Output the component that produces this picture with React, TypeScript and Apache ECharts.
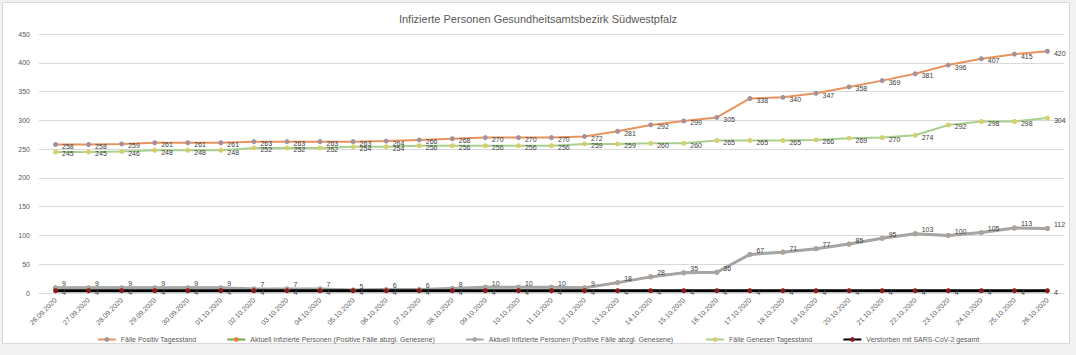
import React, { useEffect, useRef } from "react";
import * as echarts from "echarts";

const dates = [
  "26.09.2020", "27.09.2020", "28.09.2020", "29.09.2020", "30.09.2020",
  "01.10.2020", "02.10.2020", "03.10.2020", "04.10.2020", "05.10.2020",
  "06.10.2020", "07.10.2020", "08.10.2020", "09.10.2020", "10.10.2020",
  "11.10.2020", "12.10.2020", "13.10.2020", "14.10.2020", "15.10.2020",
  "16.10.2020", "17.10.2020", "18.10.2020", "19.10.2020", "20.10.2020",
  "21.10.2020", "22.10.2020", "23.10.2020", "24.10.2020", "25.10.2020",
  "26.10.2020",
];

const positiv = [258, 258, 259, 261, 261, 261, 263, 263, 263, 263, 264, 266, 268, 270, 270, 270, 272, 281, 292, 299, 305, 338, 340, 347, 358, 369, 381, 396, 407, 415, 420];
const aktuell = [9, 9, 9, 9, 9, 9, 7, 7, 7, 5, 6, 6, 8, 10, 10, 10, 9, 18, 28, 35, 36, 67, 71, 77, 85, 95, 103, 100, 105, 113, 112];
const genesen = [245, 245, 246, 248, 248, 248, 252, 252, 252, 254, 254, 256, 256, 256, 256, 256, 259, 259, 260, 260, 265, 265, 265, 266, 269, 270, 274, 292, 298, 298, 304];
const verstorben = [4, 4, 4, 4, 4, 4, 4, 4, 4, 4, 4, 4, 4, 4, 4, 4, 4, 4, 4, 4, 4, 4, 4, 4, 4, 4, 4, 4, 4, 4, 4];

const yTicks = { min: 0, max: 450, interval: 50 };

const FONT = "Liberation Sans";

export default function App() {
  const ref = useRef<HTMLDivElement>(null);
  useEffect(() => {
    if (!ref.current) return;
    const chart = echarts.init(ref.current, null, { renderer: "svg" });
    const mk = (off: number[]) => ({
      show: true,
      position: "right",
      offset: off,
      fontSize: 7,
      color: "#404040",
      textBorderWidth: 0,
      fontFamily: FONT,
    });
    chart.setOption({
      animation: false,
      backgroundColor: "transparent",
      title: {
        text: "Infizierte Personen Gesundheitsamtsbezirk Südwestpfalz",
        left: "center",
        top: 8,
        textStyle: { fontSize: 11, fontWeight: "normal", color: "#595959", fontFamily: FONT },
      },
      grid: { left: 39, right: 12, top: 34, bottom: 62 },
      legend: {
        bottom: 7,
        left: "center",
        itemGap: 30,
        itemWidth: 18,
        itemHeight: 6,
        textStyle: { fontSize: 7, color: "#595959", fontFamily: FONT },
        data: [
          "Fälle Positiv Tagesstand",
          "Aktuell Infizierte Personen (Positive Fälle abzgl. Genesene)",
          "Aktuell Infizierte Personen (Positive Fälle abzgl. Genesene) ",
          "Fälle Genesen Tagesstand",
          "Verstorben mit SARS-CoV-2 gesamt",
        ],
      },
      xAxis: {
        type: "category",
        data: dates,
        boundaryGap: true,
        axisLine: { show: true, lineStyle: { color: "#d9d9d9" } },
        axisTick: { show: false },
        axisLabel: { rotate: 45, fontSize: 7, color: "#595959", fontFamily: FONT, margin: 6, interval: 0 },
      },
      yAxis: {
        type: "value",
        min: yTicks.min,
        max: yTicks.max,
        interval: yTicks.interval,
        axisLine: { show: false },
        axisTick: { show: false },
        axisLabel: { fontSize: 7, color: "#595959", fontFamily: FONT, margin: 9 },
        splitLine: { lineStyle: { color: "#d9d9d9", width: 1 } },
      },
      series: [
        {
          name: "Fälle Positiv Tagesstand",
          type: "line",
          data: positiv,
          symbol: "circle",
          symbolSize: 5,
          lineStyle: { color: "#e8935e", width: 2 },
          itemStyle: { color: "#a3919d" },
          label: mk([-1, 2]),
        },
        {
          name: "Aktuell Infizierte Personen (Positive Fälle abzgl. Genesene)",
          type: "line",
          data: aktuell,
          symbol: "circle",
          symbolSize: 5,
          lineStyle: { color: "#70ad47", width: 2 },
          itemStyle: { color: "#ed7d31" },
        },
        {
          name: "Aktuell Infizierte Personen (Positive Fälle abzgl. Genesene) ",
          type: "line",
          data: aktuell,
          symbol: "circle",
          symbolSize: 5,
          lineStyle: { color: "#a5a5a5", width: 3 },
          itemStyle: { color: "#a5a5a5" },
          label: mk([-1, -4]),
        },
        {
          name: "Fälle Genesen Tagesstand",
          type: "line",
          data: genesen,
          symbol: "circle",
          symbolSize: 5,
          lineStyle: { color: "#a9d08e", width: 2 },
          itemStyle: { color: "#d6cf6a" },
          label: mk([-1, 2]),
        },
        {
          name: "Verstorben mit SARS-CoV-2 gesamt",
          type: "line",
          data: verstorben,
          symbol: "circle",
          symbolSize: 5,
          lineStyle: { color: "#000000", width: 3 },
          itemStyle: { color: "#8b1a1a" },
          label: mk([-1, 2]),
        },
      ],
    });
    return () => chart.dispose();
  }, []);
  return (
    <div style={{ position: "fixed", left: 0, top: 0, width: 1076, height: 355, background: "#f2f2f2" }}>
      <div
        style={{
          position: "absolute",
          left: 2,
          top: 2,
          width: 1068,
          height: 342,
          background: "#ffffff",
          border: "1px solid #d9d9d9",
          boxSizing: "border-box",
        }}
      />
      <div ref={ref} style={{ position: "absolute", left: 0, top: 0, width: 1076, height: 355 }} />
    </div>
  );
}
